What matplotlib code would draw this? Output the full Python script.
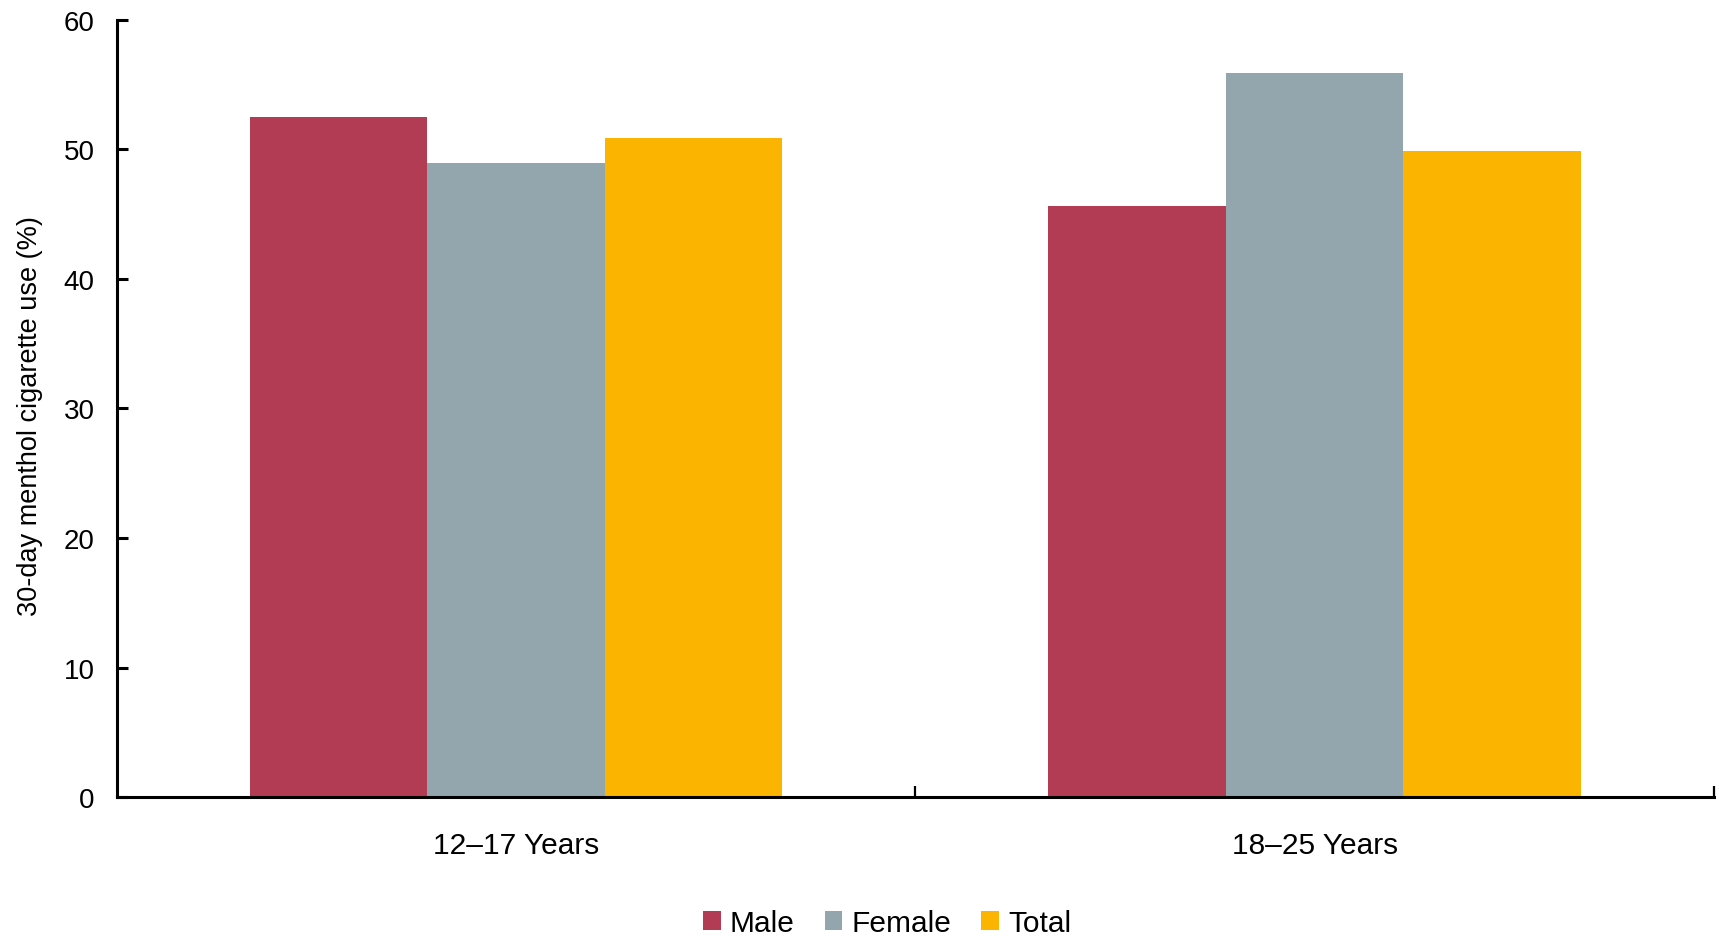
import matplotlib

matplotlib.use("Agg")
import matplotlib.pyplot as plt
import numpy as np

# === Data ===
age_groups = ["12\u201317 Years", "18\u201325 Years"]
series = ["Male", "Female", "Total"]
male = [52.5, 45.6]
female = [48.9, 55.9]
total = [50.9, 49.9]
colors = ["#B23C54", "#94A6AD", "#FBB500"]

plt.rcParams["font.family"] = ["Liberation Sans", "DejaVu Sans"]

fig = plt.figure(figsize=(17.19, 9.37), dpi=100)
ax = fig.add_axes([0.068, 0.148, 0.929, 0.830])

x = np.arange(len(age_groups))
width = 2 / 9
for i, (name, vals) in enumerate(zip(series, [male, female, total])):
    ax.bar(x + (i - 1) * width, vals, width, color=colors[i], label=name)

# Axes styling
ax.set_xlim(-0.5, 1.5)
ax.set_ylim(0, 60)
ax.set_yticks(range(0, 61, 10))
ax.set_xticks(x)
ax.set_xticklabels(age_groups)
ax.set_xticks([0.5, 1.5], minor=True)

for side in ["top", "right"]:
    ax.spines[side].set_visible(False)
for side in ["left", "bottom"]:
    ax.spines[side].set_linewidth(2.2)

ax.tick_params(axis="y", direction="in", length=8, width=2.2, pad=16, labelsize=20)
ax.tick_params(axis="x", which="major", length=0, pad=24, labelsize=21.5)
ax.tick_params(axis="x", which="minor", direction="in", length=8, width=1.6)

fig.text(30 / 1719, 1 - 416 / 937, "30-day menthol cigarette use (%)",
         rotation=90, ha="center", va="center", fontsize=19.5)

fig.legend(loc="center", bbox_to_anchor=(887 / 1719, 1 - 924 / 937), ncol=3,
           frameon=False, fontsize=21.5, handlelength=0.6, handleheight=0.6,
           handletextpad=0.3, columnspacing=1.0, borderaxespad=0)

fig.savefig("out.png", dpi=100)
